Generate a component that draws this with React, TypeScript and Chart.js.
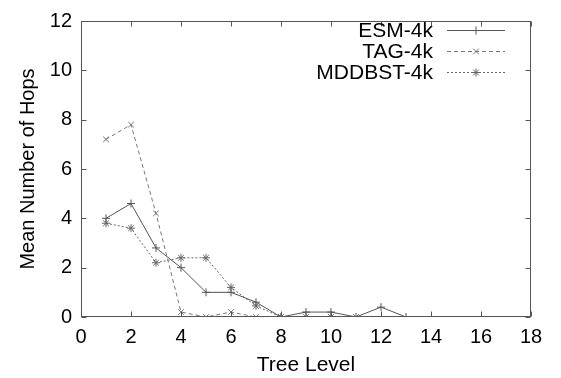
import React, { useEffect, useRef } from "react";
import { Chart, registerables } from "chart.js";

Chart.register(...registerables);

const esmLevels = [1, 2, 3, 4, 5, 6, 7, 8, 9, 10, 11, 12, 13];
const esmHops = [4.0, 4.6, 2.8, 2.0, 1.0, 1.0, 0.6, 0.0, 0.2, 0.2, 0.0, 0.4, 0.0];
const tagLevels = [1, 2, 3, 4, 5, 6, 7, 8, 9, 10, 11];
const tagHops = [7.2, 7.8, 4.2, 0.2, 0.0, 0.2, 0.0, 0.0, 0.0, 0.0, 0.0];
const mddbstLevels = [1, 2, 3, 4, 5, 6, 7, 8, 9, 10];
const mddbstHops = [3.8, 3.6, 2.2, 2.4, 2.4, 1.2, 0.45, 0.0, 0.0, 0.0];
const seriesNames = ["ESM-4k", "TAG-4k", "MDDBST-4k"];
const xTitle = "Tree Level";
const yTitle = "Mean Number of Hops";

const FONT = "'Liberation Sans', Arial, Helvetica, sans-serif";

function toPoints(xs: number[], ys: number[]) {
  return xs.map((x, i) => ({ x, y: ys[i] }));
}

function drawMarker(ctx: CanvasRenderingContext2D, style: string, x: number, y: number, r: number) {
  ctx.beginPath();
  if (style === "cross" || style === "star") {
    ctx.moveTo(x - r, y);
    ctx.lineTo(x + r, y);
    ctx.moveTo(x, y - r);
    ctx.lineTo(x, y + r);
  }
  if (style === "crossRot" || style === "star") {
    const d = r * 0.7071;
    ctx.moveTo(x - d, y - d);
    ctx.lineTo(x + d, y + d);
    ctx.moveTo(x - d, y + d);
    ctx.lineTo(x + d, y - d);
  }
  ctx.stroke();
}

const framePlugin = {
  id: "frame",
  afterDraw(chart: any) {
    const ctx = chart.ctx as CanvasRenderingContext2D;
    const { left, right, top, bottom } = chart.chartArea;
    const xs = chart.scales.x;
    const ys = chart.scales.y;
    ctx.save();
    ctx.strokeStyle = "#555";
    ctx.lineWidth = 1;
    ctx.setLineDash([]);
    const L = Math.round(left) + 0.5;
    const R = Math.round(right) - 0.5;
    const T = Math.round(top) + 0.5;
    const B = Math.round(bottom) - 0.5;
    ctx.strokeRect(L, T, R - L, B - T);
    const tl = 5;
    ctx.beginPath();
    xs.ticks.forEach((t: any) => {
      const px = Math.round(xs.getPixelForValue(t.value)) + 0.5;
      ctx.moveTo(px, B);
      ctx.lineTo(px, B - tl);
      ctx.moveTo(px, T);
      ctx.lineTo(px, T + tl);
    });
    ys.ticks.forEach((t: any) => {
      const py = Math.round(ys.getPixelForValue(t.value)) + 0.5;
      ctx.moveTo(L, py);
      ctx.lineTo(L + tl, py);
      ctx.moveTo(R, py);
      ctx.lineTo(R - tl, py);
    });
    ctx.stroke();

    // legend
    ctx.font = "21px " + FONT;
    ctx.textAlign = "right";
    ctx.textBaseline = "middle";
    const rows = [30, 51, 72];
    chart.data.datasets.forEach((ds: any, i: number) => {
      const y = rows[i];
      ctx.fillStyle = "#000";
      ctx.fillText(ds.label, 433, y + 1);
      ctx.strokeStyle = ds.borderColor;
      ctx.lineWidth = 1;
      ctx.setLineDash(ds.borderDash || []);
      ctx.beginPath();
      ctx.moveTo(447, y + 0.5);
      ctx.lineTo(505, y + 0.5);
      ctx.stroke();
      ctx.setLineDash([]);
      drawMarker(ctx, ds.pointStyle, 476, y + 0.5, 4);
    });
    ctx.restore();
  },
};

export default function App() {
  const ref = useRef<HTMLCanvasElement | null>(null);
  useEffect(() => {
    if (!ref.current) return;
    Chart.defaults.font.family = FONT;
    const common = {
      fill: false,
      borderWidth: 1,
      pointRadius: 4,
      pointBorderWidth: 1,
      pointBackgroundColor: "transparent",
      tension: 0,
    };
    const chart = new Chart(ref.current, {
      type: "line",
      data: {
        datasets: [
          {
            ...common,
            label: seriesNames[0],
            data: toPoints(esmLevels, esmHops),
            borderColor: "#555",
            pointBorderColor: "#555",
            pointStyle: "cross",
            borderDash: [],
          },
          {
            ...common,
            label: seriesNames[1],
            data: toPoints(tagLevels, tagHops),
            borderColor: "#777",
            pointBorderColor: "#777",
            pointStyle: "crossRot",
            borderDash: [4, 3],
          },
          {
            ...common,
            label: seriesNames[2],
            data: toPoints(mddbstLevels, mddbstHops),
            borderColor: "#666",
            pointBorderColor: "#666",
            pointStyle: "star",
            borderDash: [2, 2],
          },
        ],
      },
      options: {
        animation: false,
        responsive: false,
        devicePixelRatio: 1,
        layout: { padding: { top: 14, right: 30, left: 0, bottom: 0 } },
        plugins: { legend: { display: false }, tooltip: { enabled: false } },
        scales: {
          x: {
            type: "linear",
            min: 0,
            max: 18,
            ticks: { stepSize: 2, color: "#000", font: { size: 20 }, padding: 8, maxRotation: 0 },
            grid: { display: false, drawTicks: false },
            border: { display: false },
            title: { display: true, text: xTitle, color: "#000", font: { size: 21 }, padding: { top: 0, bottom: 0 } },
            afterFit: (s: any) => { s.height = 61; },
          },
          y: {
            type: "linear",
            min: 0,
            max: 12,
            ticks: { stepSize: 2, color: "#000", font: { size: 20 }, padding: 9 },
            grid: { display: false, drawTicks: false },
            border: { display: false },
            title: { display: true, text: yTitle, color: "#000", font: { size: 20 }, padding: { top: 16, bottom: 0 } },
            afterFit: (s: any) => { s.width = 81; },
          },
        },
      },
      plugins: [framePlugin],
    });
    return () => chart.destroy();
  }, []);
  return (
    <div style={{ position: "absolute", left: 0, top: 0, width: 561, height: 378, background: "#fff" }}>
      <canvas ref={ref} width={561} height={378} />
    </div>
  );
}
